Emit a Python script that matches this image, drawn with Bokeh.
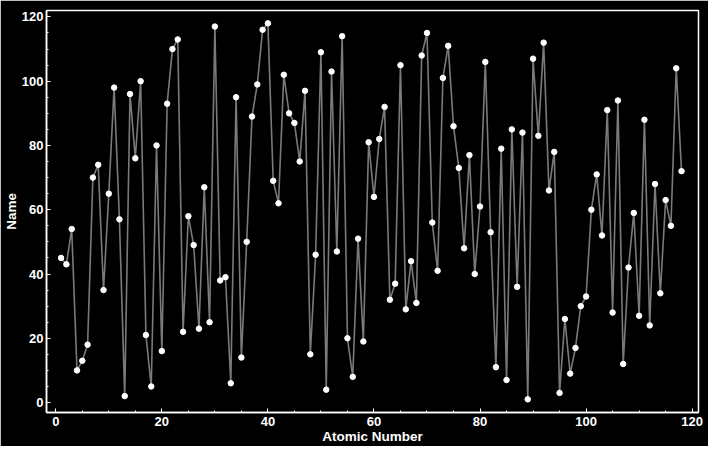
from bokeh.plotting import figure
from bokeh.embed import file_html
from bokeh.resources import INLINE
from bokeh.models import Range1d, FixedTicker

# Atomic numbers 1..118 and the alphabetical rank of each element's name
atomic_number = list(range(1, 119))
name_rank = [
    45, 43, 54, 10, 13, 18, 70, 74, 35, 65,
    98, 57, 2, 96, 76, 100, 21, 5, 80, 16,
    93, 110, 113, 22, 58, 49, 23, 67, 25, 117,
    38, 39, 6, 95, 14, 50, 89, 99, 116, 118,
    69, 62, 102, 90, 87, 75, 97, 15, 46, 109,
    4, 103, 47, 114, 20, 8, 51, 19, 81, 64,
    82, 92, 32, 37, 105, 29, 44, 31, 108, 115,
    56, 41, 101, 111, 86, 73, 48, 77, 40, 61,
    106, 53, 11, 79, 7, 85, 36, 84, 1, 107,
    83, 112, 66, 78, 3, 26, 9, 17, 30, 33,
    60, 71, 52, 91, 28, 94, 12, 42, 59, 27,
    88, 24, 68, 34, 63, 55, 104, 72,
]
x_ticks = [0, 20, 40, 60, 80, 100, 120]
y_ticks = [0, 20, 40, 60, 80, 100, 120]

W, H = 704, 446
FW, FH = 652, 402
BL, BT = 42, 10

p = figure(
    width=W, height=H,
    frame_width=FW, frame_height=FH,
    min_border_left=BL, min_border_right=W - BL - FW,
    min_border_top=BT, min_border_bottom=H - BT - FH,
    output_backend="svg", toolbar_location=None,
    x_range=Range1d(-1.75, 121.2), y_range=Range1d(-3.1, 122.0),
    background_fill_color="black", border_fill_color="black",
)
p.outline_line_color = "white"
p.outline_line_width = 1.5
p.grid.visible = False

p.line(atomic_number, name_rank, line_color="#7a7a7a", line_width=1.6)
p.scatter(atomic_number, name_rank, size=5.5, fill_color="white", line_color="white")

for ax, ticks in ((p.xaxis[0], x_ticks), (p.yaxis[0], y_ticks)):
    ax.ticker = FixedTicker(ticks=ticks, minor_ticks=[t for t in range(-5, 125, 5) if t % 20 != 0])
    ax.axis_line_color = "white"
    ax.axis_line_width = 1.5
    ax.major_tick_line_color = "white"
    ax.minor_tick_line_color = "white"
    ax.major_tick_in = 4
    ax.major_tick_out = 0
    ax.minor_tick_in = 2
    ax.minor_tick_out = 0
    ax.major_label_text_color = "white"
    ax.major_label_text_font = "Liberation Sans"
    ax.major_label_text_font_style = "bold"
    ax.major_label_text_font_size = "13px"
    ax.axis_label_text_color = "white"
    ax.axis_label_text_font = "Liberation Sans"
    ax.axis_label_text_font_style = "bold"
    ax.axis_label_text_font_size = "13.5px"

p.xaxis.axis_label = "Atomic Number"
p.yaxis.axis_label = "Name"
p.xaxis.major_label_standoff = 4
p.yaxis.major_label_standoff = 3
p.xaxis.axis_label_standoff = 0
p.yaxis.axis_label_standoff = 0

html = file_html(p, INLINE)
html = html.replace("<body>", '<body style="background:black;">', 1)
open("out.html", "w").write(html)
